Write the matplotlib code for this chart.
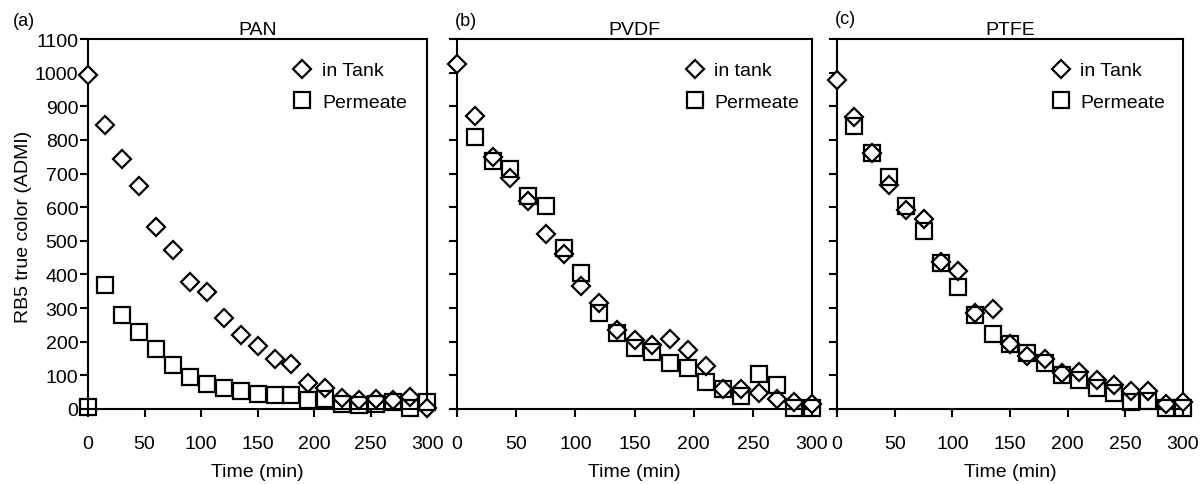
import numpy as np
import matplotlib
matplotlib.use('Agg')
import matplotlib.pyplot as plt

plt.rcParams['font.family'] = ['Liberation Sans', 'DejaVu Sans']

# 时间点 (min)
time = [0, 15, 30, 45, 60, 75, 90, 105, 120, 135, 150, 165, 180, 195, 210,
        225, 240, 255, 270, 285, 300]
time_perm = time[1:]

# (a) PAN
pan_tank = [992, 844, 742, 664, 542, 472, 379, 348, 271, 219, 186, 148, 133,
            76, 61, 32, 27, 29, 27, 36, 4]
pan_perm = [7, 369, 278, 230, 177, 132, 96, 74, 61, 54, 44, 41, 41, 27, 29,
            15, 12, 15, 22, 2, 22]
# (b) PVDF
pvdf_tank = [1025, 870, 750, 687, 617, 520, 460, 365, 315, 235, 205, 190, 207,
             175, 127, 60, 60, 47, 30, 20, 15]
pvdf_perm = [810, 737, 715, 633, 605, 480, 405, 285, 225, 180, 170, 137, 122,
             80, 60, 40, 105, 70, 3, 3]
# (c) PTFE
ptfe_tank = [979, 869, 762, 665, 593, 564, 437, 411, 286, 296, 193, 158, 148,
             106, 111, 86, 70, 54, 52, 14, 20]
ptfe_perm = [842, 762, 690, 603, 529, 434, 362, 280, 223, 193, 166, 136, 101,
             86, 62, 47, 22, 24, 4, 4]

panels = [
    ('(a)', 'PAN', time, pan_tank, time, pan_perm, 'in Tank'),
    ('(b)', 'PVDF', time, pvdf_tank, time_perm, pvdf_perm, 'in tank'),
    ('(c)', 'PTFE', time, ptfe_tank, time_perm, ptfe_perm, 'in Tank'),
]
positions = [[0.0732, 0.1464, 0.2818, 0.771],
             [0.3799, 0.1464, 0.2951, 0.771],
             [0.6958, 0.1464, 0.2876, 0.771]]
legend_anchor = [(0.575, 0.96), (0.615, 0.96), (0.59, 0.96)]
tag_pos = [(13, 22), (455, 22), (835, 20)]

fig = plt.figure(figsize=(12.03, 4.85), dpi=100)

for i, (tag, name, tx, ty, px, py, lab) in enumerate(panels):
    ax = fig.add_axes(positions[i])
    ax.plot(tx, ty, linestyle='none', marker='D', markersize=9,
            markerfacecolor='white', markeredgecolor='black',
            markeredgewidth=1.6, clip_on=False, label=lab, zorder=3)
    ax.plot(px, py, linestyle='none', marker='s', markersize=11,
            markerfacecolor='none', markeredgecolor='black',
            markeredgewidth=1.6, clip_on=False, label='Permeate', zorder=3)
    ax.set_xlim(0, 300)
    ax.set_ylim(-12, 1100)
    ax.set_xticks(np.arange(0, 301, 50))
    ax.set_yticks(np.arange(0, 1101, 100))
    ax.spines['bottom'].set_position(('data', 0))
    for s in ax.spines.values():
        s.set_linewidth(1.5)
    ax.tick_params(axis='both', direction='out', length=6, width=1.5,
                   labelsize=14)
    ax.tick_params(axis='x', pad=13)
    ax.tick_params(axis='y', pad=1)
    if i > 0:
        ax.set_yticklabels([])
    else:
        ax.set_ylabel('RB5 true color (ADMI)', fontsize=14, labelpad=2)
    ax.set_xlabel('Time (min)', fontsize=14, labelpad=8)
    ax.set_title(name, fontsize=14, pad=4)
    fig.text(tag_pos[i][0] / 1203, 1 - tag_pos[i][1] / 485, tag,
             fontsize=13, ha='left', va='center')
    ax.legend(loc='upper left', bbox_to_anchor=legend_anchor[i],
              frameon=False, fontsize=14, handletextpad=0.4,
              labelspacing=0.7, handlelength=1.2, borderaxespad=0)

fig.savefig('out.png', dpi=100)
